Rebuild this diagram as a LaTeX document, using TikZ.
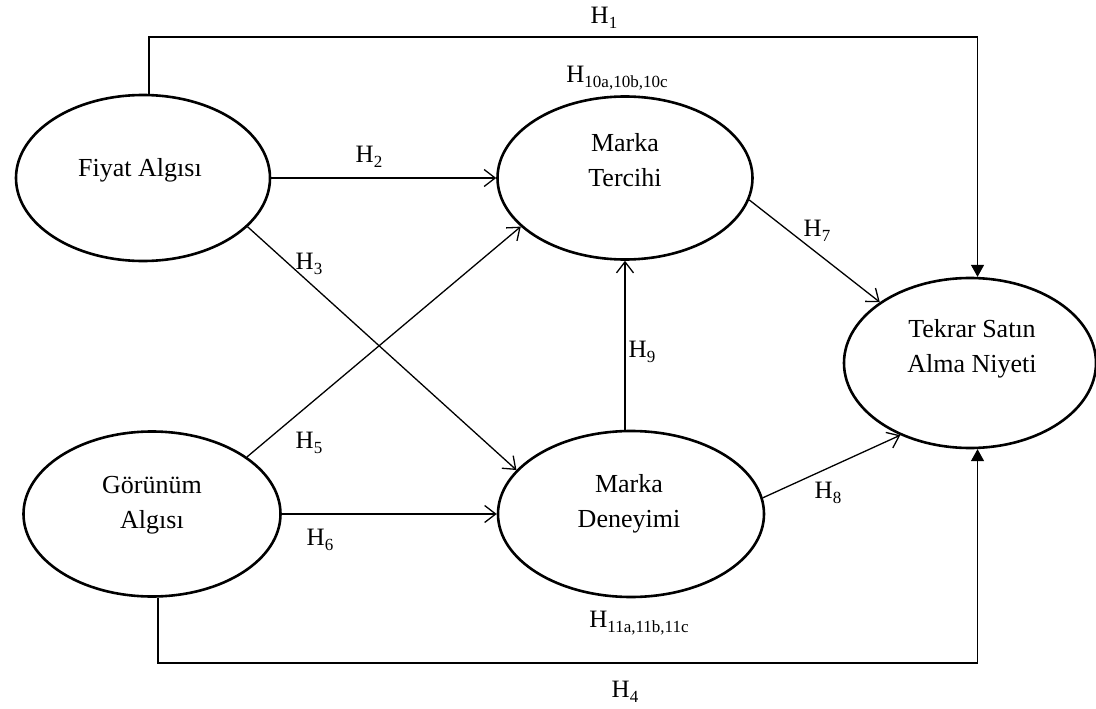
\documentclass[tikz,border=0pt]{standalone}
\usepackage{fontspec}
\setmainfont{Liberation Serif}
\usetikzlibrary{shapes.geometric,arrows.meta}
\newcommand\Hlab[1]{H\raisebox{-0.2em}{\fontsize{17}{17}\selectfont #1}}
\begin{document}
\begin{tikzpicture}[x=1pt,y=-1pt,
  lat/.style={draw, ellipse, line width=2.6pt, inner sep=0pt},
  txt/.style={font=\fontsize{26}{35}\selectfont, align=center, inner sep=0pt},
  hyp/.style={font=\fontsize{25}{30}\selectfont, inner sep=0pt},
  harrow/.style={line width=1.3pt, -{Straight Barb[length=11pt,width=17pt,line width=1.3pt]}},
  hdirect/.style={line width=1.3pt, -{Triangle[length=12pt,width=13pt]}}]
\fill[white] (0,0) rectangle (1096,709);
\useasboundingbox (0,0) rectangle (1096,709);

% latent constructs
\node[lat, minimum width=254pt, minimum height=166pt] (fiyat) at (143,178) {};
\node[lat, minimum width=255pt, minimum height=163pt] (tercihi) at (625,178) {};
\node[lat, minimum width=252pt, minimum height=170pt] (tekrar) at (970,363) {};
\node[lat, minimum width=257pt, minimum height=165pt] (gorunum) at (152,514) {};
\node[lat, minimum width=266pt, minimum height=166pt] (deneyimi) at (631,514) {};

% texts
\node[txt, anchor=base] (fiyat-t) at (140,176) {Fiyat Algısı};
\node[txt] (tercihi-t) at (625,160.5) {Marka\\Tercihi};
\node[txt] (tekrar-t) at (972,349) {Tekrar Satın\\Alma Niyeti};
\node[txt] (gorunum-t) at (152,505.5) {Görünüm\\Algısı};
\node[txt] (deneyimi-t) at (629,504) {Marka\\Deneyimi};

% connectors
\coordinate (toprow) at (0,37);
\coordinate (botrow) at (0,663);
\draw[hdirect] (fiyat.86) -- (fiyat.86 |- toprow) -| (tekrar.85);
\draw[hdirect] (gorunum.-86) -- (gorunum.-86 |- botrow) -| (tekrar.-85);
\draw[harrow] (fiyat.east) -- (tercihi.west);
\draw[harrow] (fiyat.-25) -- (deneyimi.159);
\draw[harrow] (gorunum.31.5) -- (tercihi.205);
\draw[harrow] (gorunum.east) -- (deneyimi.west);
\draw[harrow] (tercihi.-10) -- (tekrar.146);
\draw[harrow] (deneyimi.7) -- (tekrar.226);
\draw[harrow] (tercihi.south |- deneyimi.north) -- (tercihi.south);

% hypothesis labels
\node[hyp] (h1) at (604,18) {\Hlab{1}};
\node[hyp] (h10) at (617,78) {\Hlab{10a,10b,10c}};
\node[hyp] (h2) at (369,157) {\Hlab{2}};
\node[hyp] (h3) at (309,264) {\Hlab{3}};
\node[hyp] (h5) at (309,443) {\Hlab{5}};
\node[hyp] (h6) at (320,540) {\Hlab{6}};
\node[hyp] (h7) at (817,231) {\Hlab{7}};
\node[hyp] (h8) at (828,493) {\Hlab{8}};
\node[hyp] (h9) at (642,352) {\Hlab{9}};
\node[hyp] (h11) at (639,623) {\Hlab{11a,11b,11c}};
\node[hyp] (h4) at (625,692) {\Hlab{4}};
\end{tikzpicture}
\end{document}
